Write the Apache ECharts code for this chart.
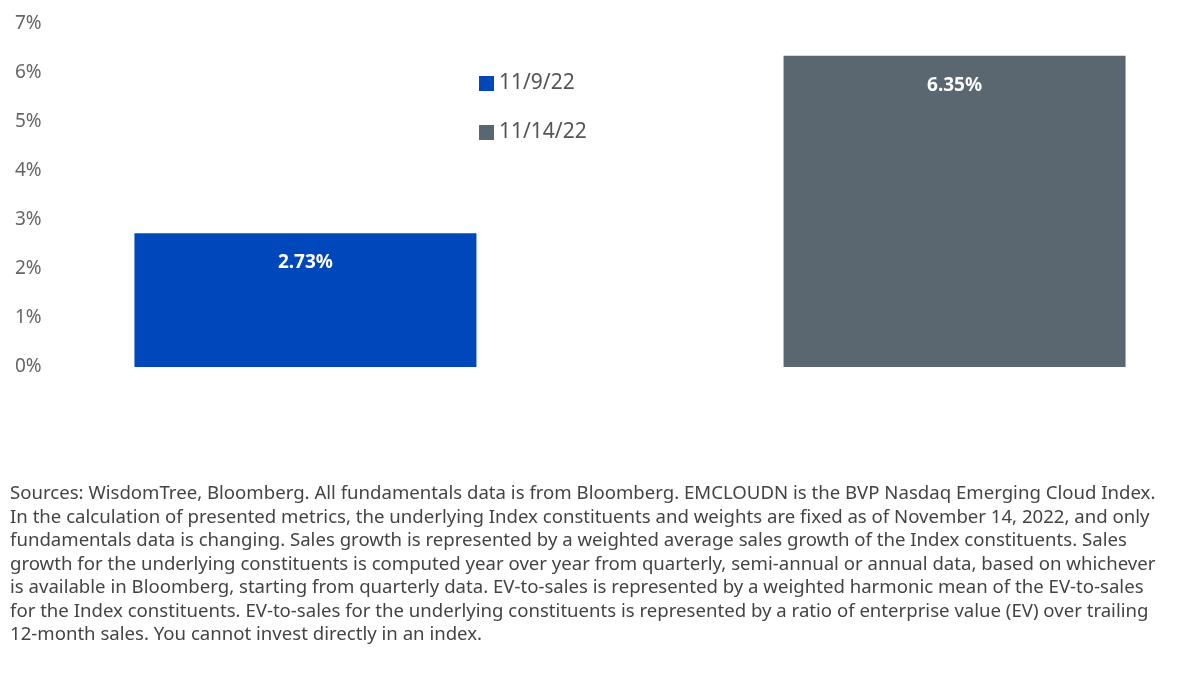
<!DOCTYPE html>
<html lang="en">
<head>
    <meta charset="UTF-8">
    <title>EMCLOUDN</title>
    <script src="https://cdn.jsdelivr.net/npm/echarts@6/dist/echarts.min.js"></script>
</head>
<body style="margin:0">
<div id="myChart" style="width: 1200px;height: 675px"></div>
</body>
<script>
    var categories = ['EMCLOUDN'];
    var seriesNames = ['11/9/22', '11/14/22'];
    var values = [2.73, 6.35];
    var colors = ['#0047bb', '#5b6770'];
    var footnote = 'Sources: WisdomTree, Bloomberg. All fundamentals data is from Bloomberg. EMCLOUDN is the BVP Nasdaq Emerging Cloud Index.\n' +
        'In the calculation of presented metrics, the underlying Index constituents and weights are fixed as of November 14, 2022, and only\n' +
        'fundamentals data is changing. Sales growth is represented by a weighted average sales growth of the Index constituents. Sales\n' +
        'growth for the underlying constituents is computed year over year from quarterly, semi-annual or annual data, based on whichever\n' +
        'is available in Bloomberg, starting from quarterly data. EV-to-sales is represented by a weighted harmonic mean of the EV-to-sales\n' +
        'for the Index constituents. EV-to-sales for the underlying constituents is represented by a ratio of enterprise value (EV) over trailing\n' +
        '12-month sales. You cannot invest directly in an index.';

    var myChart = echarts.init(document.getElementById('myChart'));
    myChart.setOption({
        textStyle: {fontFamily: 'Noto Sans, sans-serif'},
        // plot runs past the right edge so the pair of bars sits where the original has it
        grid: {left: 60, right: -108, top: 24, height: 343},
        legend: {
            orient: 'vertical', left: 474, top: 68, itemGap: 28,
            itemWidth: 15, itemHeight: 15, icon: 'rect',
            textStyle: {fontSize: 21, color: '#555'},
            data: seriesNames
        },
        xAxis: {type: 'category', data: categories, show: false},
        yAxis: {
            type: 'value', min: 0, max: 7, interval: 1,
            axisLine: {show: false}, axisTick: {show: false}, splitLine: {show: false},
            axisLabel: {formatter: '{value}%', align: 'left', margin: 45, fontSize: 19, color: '#666'}
        },
        series: seriesNames.map(function (name, i) {
            return {
                name: name, type: 'bar', barWidth: 342, barGap: '89.8%',
                itemStyle: {color: colors[i]},
                label: {
                    show: true, position: 'insideTop', distance: 20,
                    formatter: function (p) { return p.value.toFixed(2) + '%'; },
                    color: '#fff', fontWeight: 'bold', fontSize: 19
                },
                data: [values[i]]
            };
        }),
        graphic: [{
            type: 'text', left: 10, top: 482,
            style: {text: footnote, fontSize: 18.6, lineHeight: 23.5, fill: '#444',
                fontFamily: 'Noto Sans, sans-serif'}
        }]
    });
</script>
</html>
